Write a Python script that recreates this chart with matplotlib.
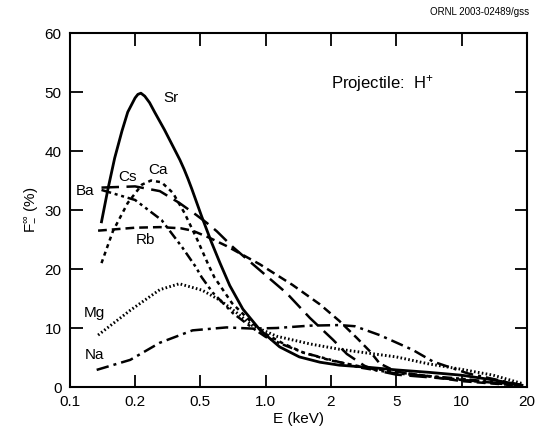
import numpy as np
import matplotlib
matplotlib.use("Agg")
import matplotlib.pyplot as plt

plt.rcParams["font.family"] = ["Liberation Sans", "DejaVu Sans"]
plt.rcParams["mathtext.fontset"] = "custom"
plt.rcParams["mathtext.rm"] = "Liberation Sans"
plt.rcParams["mathtext.it"] = "Liberation Sans"

# x ticks are drawn evenly spaced (1-2-5 steps)
x_ticks = [0.1, 0.2, 0.5, 1.0, 2, 5, 10, 20]
x_tick_labels = ["0.1", "0.2", "0.5", "1.0", "2", "5", "10", "20"]

# curves: energy (keV), fraction (%)
sr_e = [0.140, 0.150, 0.161, 0.174, 0.185, 0.200, 0.208, 0.217, 0.229, 0.245, 0.263, 0.302, 0.346, 0.375, 0.398,
        0.420, 0.443, 0.507, 0.563, 0.616, 0.683, 0.785, 0.94, 1.16, 1.43, 1.78, 2.25, 3.5, 5.0, 7.0, 10.0, 14.0, 19.0]
sr_f = [28.0, 33.6, 38.8, 43.4, 46.6, 49.0, 49.6, 49.8, 49.3, 48.2, 46.6, 43.6, 40.4, 38.5, 36.9,
        35.3, 33.6, 28.9, 24.5, 21.0, 17.2, 13.2, 9.7, 6.8, 5.1, 4.2, 3.7, 3.3, 2.9, 2.5, 2.0, 1.2, 0.3]

cs_e = [0.14, 0.2, 0.283, 0.372, 0.47, 0.536, 0.595, 0.707, 0.94, 1.25, 1.6, 2.06, 2.5, 3.2, 3.8, 5.0, 10.0, 19.0]
cs_f = [33.8, 34.0, 33.2, 31.2, 29.2, 27.8, 26.4, 23.7, 19.8, 15.9, 11.7, 8.0, 5.6, 3.6, 2.8, 2.1, 1.2, 0.3]

rb_e = [0.135, 0.2, 0.283, 0.38, 0.448, 0.55, 0.66, 0.94, 1.33, 1.78, 2.25, 2.88, 3.47, 3.96, 5.0, 10.0, 19.0]
rb_f = [26.5, 27.0, 27.1, 26.9, 26.5, 25.3, 23.9, 20.8, 17.3, 14.0, 11.2, 8.3, 6.0, 4.0, 2.6, 1.0, 0.2]

ca_e = [0.14, 0.158, 0.185, 0.22, 0.25, 0.29, 0.34, 0.40, 0.48, 0.54, 0.58, 0.70, 0.87, 1.0, 1.2, 1.5,
        2.0, 3.0, 5.0, 10.0, 19.0]
ca_f = [21.0, 26.4, 31.2, 34.3, 35.0, 34.7, 32.9, 29.5, 24.9, 21.0, 18.6, 14.2, 10.8, 9.0, 7.4, 5.8,
        4.5, 3.5, 2.5, 1.2, 0.2]

ba_e = [0.14, 0.2, 0.29, 0.387, 0.47, 0.507, 0.57, 0.707, 0.87, 1.0, 1.2, 1.5, 2.0, 3.0, 5.0, 10.0, 19.0]
ba_f = [33.4, 31.7, 28.3, 23.7, 20.3, 18.6, 16.0, 12.5, 10.0, 8.5, 7.2, 5.8, 4.6, 3.3, 2.3, 1.4, 0.3]

mg_e = [0.135, 0.19, 0.283, 0.372, 0.51, 0.616, 0.74, 0.87, 1.125, 1.6, 2.25, 5.0, 7.1, 10.0, 14.0, 19.0]
mg_f = [8.8, 13.0, 16.5, 17.5, 16.4, 14.7, 12.5, 10.4, 8.6, 7.3, 6.4, 5.1, 3.9, 3.0, 2.0, 0.6]

na_e = [0.133, 0.19, 0.283, 0.448, 0.66, 0.87, 1.125, 1.6, 2.25, 2.8, 3.96, 5.95, 7.4, 10.7, 19.0]
na_f = [2.9, 4.6, 7.5, 9.6, 10.1, 9.9, 10.0, 10.4, 10.5, 10.3, 8.8, 6.3, 4.3, 2.3, 0.3]

log_ticks = np.log10(x_ticks)
tick_pos = np.arange(len(x_ticks))


def forward(e):
    e = np.clip(np.asarray(e, dtype=float), 1e-6, None)
    return np.interp(np.log10(e), log_ticks, tick_pos)


def inverse(p):
    return 10 ** np.interp(np.asarray(p, dtype=float), tick_pos, log_ticks)


fig = plt.figure(figsize=(5.37, 4.43), dpi=100)
ax = fig.add_axes([0.130, 0.1264, 0.851, 0.7991])
ax.set_xscale("function", functions=(forward, inverse))

lw = 1.8
ax.plot(sr_e, sr_f, color="black", lw=2.0, ls="-")
ax.plot(cs_e, cs_f, color="black", lw=lw, ls=(0, (7, 3)))
ax.plot(rb_e, rb_f, color="black", lw=lw, ls=(0, (3.5, 2)))
ax.plot(ca_e, ca_f, color="black", lw=lw, ls=(0, (1.6, 1.6)))
ax.plot(ba_e, ba_f, color="black", lw=lw, ls=(0, (4, 1.5, 1.2, 1.5, 1.2, 1.5)))
ax.plot(mg_e, mg_f, color="black", lw=2.1, ls=(0, (0.55, 0.8)))
ax.plot(na_e, na_f, color="black", lw=lw, ls=(0, (5, 2, 1.2, 2)))

ax.set_xlim(0.1, 20)
ax.set_ylim(0, 60)
ax.set_xticks(x_ticks)
ax.set_xticklabels(x_tick_labels)
ax.minorticks_off()
ax.set_yticks([0, 10, 20, 30, 40, 50, 60])
ax.tick_params(direction="in", length=9, width=1.3, labelsize=11, top=True, right=True, pad=6)
for s in ax.spines.values():
    s.set_linewidth(1.5)

ax.set_xlabel("E (keV)", fontsize=11, labelpad=2)
ax.set_ylabel(r"F$_{-}^{\infty}$ (%)", fontsize=11, labelpad=4)

labels = {"Sr": (0.33, 49.0), "Ca": (0.276, 36.8), "Cs": (0.185, 35.6), "Ba": (0.117, 33.2),
          "Rb": (0.23, 24.9), "Mg": (0.13, 12.5), "Na": (0.13, 5.4)}
for name, (xe, yv) in labels.items():
    ax.text(xe, yv, name, fontsize=11, ha="center", va="center")

ax.text(2.0, 51.5, "Projectile:  H$^{+}$", fontsize=12, ha="left", va="center")
fig.text(0.985, 0.972, "ORNL 2003-02489/gss", fontsize=7, ha="right", va="center")

fig.savefig("out.png", dpi=100)
